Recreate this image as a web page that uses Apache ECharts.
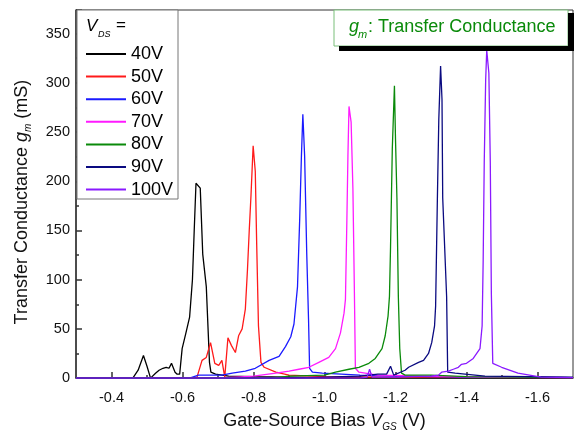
<!DOCTYPE html>
<html>
<head>
<meta charset="utf-8">
<script src="https://cdn.jsdelivr.net/npm/echarts@6/dist/echarts.min.js"></script>
<style>
  html, body { margin: 0; padding: 0; background: #fff; }
  #main { width: 576px; height: 437px; }
</style>
</head>
<body>
<div id="main"></div>
<script>
// V_DS labels and curve colours
var vdsNames = ['40V', '50V', '60V', '70V', '80V', '90V', '100V'];
var colors = ['#000000', '#ff1a1a', '#1a1aff', '#ff1aff', '#0a8a0a', '#0a0a80', '#8a1aff'];

// [V_GS (V), g_m (mS)]
var gm40 = [[-0.30,0],[-0.46,0],[-0.475,8],[-0.49,23],[-0.50,12],[-0.51,0],[-0.524,5],[-0.534,8],[-0.545,10],[-0.554,11],[-0.562,10],[-0.569,15],[-0.579,6],[-0.585,4],[-0.592,4],[-0.599,30],[-0.609,45],[-0.62,62],[-0.628,100],[-0.633,150],[-0.638,198],[-0.65,193],[-0.657,126],[-0.667,93],[-0.676,16],[-0.68,6],[-0.693,4],[-0.73,2],[-0.80,1.5],[-0.90,1],[-1.0,0.5],[-1.7,0]];
var gm50 = [[-0.30,0],[-0.64,0],[-0.655,18],[-0.667,21],[-0.679,36],[-0.691,15],[-0.702,13],[-0.711,18],[-0.719,1],[-0.728,41],[-0.738,33],[-0.749,26],[-0.758,43],[-0.768,50],[-0.777,70],[-0.783,110],[-0.788,150],[-0.793,186],[-0.799,236],[-0.805,210],[-0.809,136],[-0.814,53],[-0.821,16],[-0.83,11],[-0.863,6],[-0.90,3],[-1.0,1.5],[-1.2,1],[-1.7,0.5]];
var gm60 = [[-0.30,0],[-0.62,0],[-0.645,3],[-0.711,3],[-0.74,5],[-0.777,7],[-0.805,10],[-0.844,18],[-0.872,22],[-0.89,32],[-0.905,42],[-0.914,55],[-0.924,93],[-0.93,160],[-0.935,226],[-0.939,268],[-0.944,226],[-0.95,126],[-0.955,60],[-0.958,10],[-0.966,6],[-0.994,5],[-1.1,3],[-1.2,2],[-1.4,1],[-1.7,0.5]];
var gm70 = [[-0.30,0],[-0.70,0],[-0.80,2],[-0.863,5],[-0.90,7],[-0.928,9],[-0.956,11],[-0.984,16],[-1.012,21],[-1.031,30],[-1.045,46],[-1.055,66],[-1.059,80],[-1.063,160],[-1.066,226],[-1.069,276],[-1.075,260],[-1.08,193],[-1.084,93],[-1.087,10],[-1.097,6],[-1.15,3],[-1.3,2],[-1.45,1],[-1.7,0.5]];
var gm80 = [[-0.30,0],[-0.85,0],[-0.90,2],[-1.0,3],[-1.031,6],[-1.069,9],[-1.097,11],[-1.125,15],[-1.143,20],[-1.162,30],[-1.171,43],[-1.179,63],[-1.183,83],[-1.186,133],[-1.191,233],[-1.197,297],[-1.20,243],[-1.204,183],[-1.208,83],[-1.212,30],[-1.217,5],[-1.227,3],[-1.3,3],[-1.4,1.5],[-1.7,0.5]];
var gm90 = [[-0.30,0],[-0.90,0],[-1.0,1],[-1.1,2],[-1.15,4],[-1.175,4],[-1.186,12],[-1.195,3],[-1.20,2],[-1.227,8],[-1.237,11],[-1.265,16],[-1.279,18],[-1.293,25],[-1.302,36],[-1.31,53],[-1.313,73],[-1.318,183],[-1.322,263],[-1.327,317],[-1.331,283],[-1.333,183],[-1.344,83],[-1.347,6],[-1.368,5],[-1.452,2],[-1.7,1]];
var gm100 = [[-0.30,0],[-1.10,0],[-1.12,1],[-1.127,9],[-1.134,1],[-1.2,1],[-1.3,2],[-1.321,3],[-1.33,6],[-1.349,7],[-1.363,9],[-1.377,11],[-1.386,14],[-1.40,15],[-1.419,20],[-1.438,30],[-1.444,53],[-1.447,120],[-1.45,220],[-1.454,303],[-1.457,333],[-1.463,310],[-1.467,220],[-1.47,86],[-1.474,15],[-1.499,11],[-1.545,5],[-1.61,1],[-1.7,0.5]];
var curves = [gm40, gm50, gm60, gm70, gm80, gm90, gm100];

// tick values
var xMajor = [-0.4, -0.6, -0.8, -1.0, -1.2, -1.4, -1.6];
var xMinor = [-0.5, -0.7, -0.9, -1.1, -1.3, -1.5];

var font = 'Liberation Sans, Arial, sans-serif';
var myChart = echarts.init(document.getElementById('main'));

var series = curves.map(function (d, i) {
    return {
        name: vdsNames[i],
        type: 'line',
        data: d,
        symbol: 'none',
        lineStyle: { width: 1.3, color: colors[i] },
        itemStyle: { color: colors[i] },
        z: 2
    };
});

var option = {
    animation: false,
    grid: { left: 76, right: 3, top: 10, bottom: 54, show: true, borderColor: '#333', borderWidth: 1 },
    legend: {
        data: vdsNames,
        orient: 'vertical',
        left: 86,
        top: 45,
        padding: 0,
        itemWidth: 40,
        itemHeight: 2,
        itemGap: 4.6,
        icon: 'rect',
        z: 10,
        textStyle: { fontFamily: font, fontSize: 18, lineHeight: 18, color: '#000' }
    },
    xAxis: [{
        type: 'value',
        min: -1.7,
        max: -0.3,
        inverse: true,
        name: 'Gate-Source Bias {i|V}{s|GS} (V)',
        nameLocation: 'middle',
        nameGap: 31,
        nameTextStyle: {
            fontFamily: font, fontSize: 18, color: '#111', lineHeight: 22,
            rich: {
                i: { fontFamily: font, fontSize: 18, fontStyle: 'italic', color: '#111', lineHeight: 22 },
                s: { fontFamily: font, fontSize: 10, fontStyle: 'italic', color: '#111', verticalAlign: 'bottom', lineHeight: 10 }
            }
        },
        axisLine: { lineStyle: { color: '#333', width: 1.5 } },
        axisTick: { inside: true, length: 6, customValues: xMajor, lineStyle: { color: '#333', width: 1.5 } },
        axisLabel: { customValues: xMajor, fontFamily: font, fontSize: 14.5, color: '#111', margin: 12,
            formatter: function (v) { return v.toFixed(1); } },
        splitLine: { show: false }
    }, {
        type: 'value',
        min: -1.7,
        max: -0.3,
        inverse: true,
        position: 'bottom',
        axisLine: { show: false },
        axisTick: { inside: true, length: 3, customValues: xMinor, lineStyle: { color: '#333', width: 1.5 } },
        axisLabel: { show: false },
        splitLine: { show: false }
    }],
    yAxis: {
        type: 'value',
        min: 0,
        max: 374,
        interval: 50,
        name: 'Transfer Conductance {i|g}{s|m} (mS)',
        nameLocation: 'middle',
        nameGap: 43,
        nameTextStyle: {
            fontFamily: font, fontSize: 18, color: '#111', lineHeight: 22, padding: [0, 16, 0, 0],
            rich: {
                i: { fontFamily: font, fontSize: 18, fontStyle: 'italic', color: '#111', lineHeight: 22 },
                s: { fontFamily: font, fontSize: 10, fontStyle: 'italic', color: '#111', verticalAlign: 'bottom', lineHeight: 10 }
            }
        },
        axisLine: { show: true, lineStyle: { color: '#333', width: 1.5 } },
        axisTick: { show: true, inside: true, length: 6, lineStyle: { color: '#333', width: 1.5 } },
        minorTick: { show: true, splitNumber: 2, length: 3, lineStyle: { color: '#333', width: 1.5 } },
        axisLabel: { fontFamily: font, fontSize: 14.5, color: '#111', margin: 6, showMaxLabel: false },
        splitLine: { show: false }
    },
    graphic: {
        elements: [
            // legend box
            { type: 'rect', id: 'legBox', z: 3, shape: { x: 77, y: 10, width: 101, height: 189 },
              style: { fill: '#fff', stroke: '#777', lineWidth: 1 } },
            { type: 'text', id: 'legV', z: 11, style: { text: 'V', x: 86, y: 26.5, font: 'italic 17px ' + font, fill: '#000', verticalAlign: 'middle' } },
            { type: 'text', id: 'legDS', z: 11, style: { text: 'DS', x: 98, y: 34.5, font: 'italic 9px ' + font, fill: '#000', verticalAlign: 'middle' } },
            { type: 'text', id: 'legEq', z: 11, style: { text: '=', x: 116, y: 25.5, font: '17px ' + font, fill: '#000', verticalAlign: 'middle' } },
            // title box
            { type: 'rect', id: 'titBox', z: 4, shape: { x: 334, y: 10, width: 234, height: 36 },
              style: { fill: '#fff', stroke: '#7bbf7b', lineWidth: 1 } },
            // black drop shadow: bottom and right bars
            { type: 'rect', id: 'shadowB', z: 20, shape: { x: 339, y: 46, width: 235, height: 5 },
              style: { fill: '#000', stroke: null } },
            { type: 'rect', id: 'shadowR', z: 20, shape: { x: 568, y: 13, width: 6, height: 38 },
              style: { fill: '#000', stroke: null } },
            { type: 'text', id: 'titG', z: 11, style: { text: 'g', x: 349, y: 27, font: 'italic 18px ' + font, fill: '#0a8a0a', verticalAlign: 'middle' } },
            { type: 'text', id: 'titM', z: 11, style: { text: 'm', x: 358, y: 35, font: 'italic 11px ' + font, fill: '#0a8a0a', verticalAlign: 'middle' } },
            { type: 'text', id: 'titT', z: 11, style: { text: ': Transfer Conductance', x: 368, y: 27, font: '18px ' + font, fill: '#0a8a0a', verticalAlign: 'middle' } }
        ]
    },
    series: series
};

myChart.setOption(option);
</script>
</body>
</html>
